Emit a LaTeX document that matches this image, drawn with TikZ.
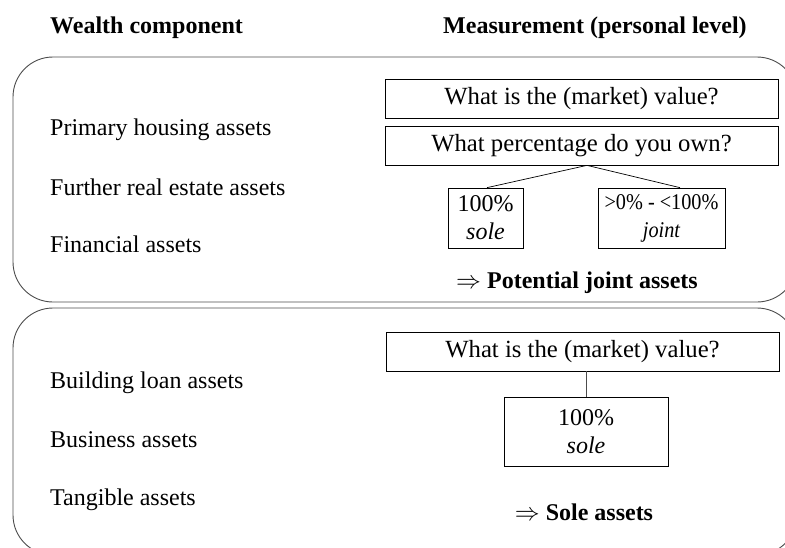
\documentclass[tikz,border=0pt]{standalone}
\usepackage{fontspec}
\setmainfont{Liberation Serif}
\newfontfamily\narrowserif[FakeStretch=0.9]{Liberation Serif}
\usetikzlibrary{positioning}

\begin{document}
\begin{tikzpicture}[x=1pt, y=-1pt,
  panel/.style={draw=black!70, line width=0.9pt, rounded corners=40pt},
  qbox/.style={draw, line width=0.7pt, minimum width=393pt, minimum height=39pt, inner sep=0pt, font=\fontsize{24.7}{28}\selectfont},
  sharebox/.style={draw, line width=0.7pt, inner sep=0pt, align=center, font=\fontsize{24}{28}\selectfont},
  item/.style={anchor=base west, inner sep=0pt, font=\fontsize{24}{28}\selectfont},
  head/.style={anchor=base west, inner sep=0pt, font=\fontsize{24}{28}\selectfont\bfseries},
  result/.style={anchor=base, inner sep=0pt, font=\fontsize{24}{28}\selectfont\bfseries},
  link/.style={line width=0.7pt},
]
  \useasboundingbox (0,0) rectangle (785,547);

  % column heads
  \node[head] (headleft) at (50,33) {Wealth component};
  \node[head] (headright) at (443,33) {Measurement (personal level)};

  % the two groups
  \draw[panel] (13,57) rectangle (797,302);
  \draw[panel] (13,308) rectangle (797,555);

  \foreach \i/\y/\l in {1/135/Primary housing assets, 2/195/Further real estate assets, 3/252/Financial assets,
                        4/388/Building loan assets, 5/447/Business assets, 6/505/Tangible assets} {
    \node[item] (comp\i) at (50,\y) {\l};
  }

  % joint measurement
  \node[qbox] (value) at (581.5,98.5) {What is the (market) value?};
  \node[qbox] (share) at (581.5,145.5) {What percentage do you own?};
  \node[sharebox, minimum width=75pt, minimum height=60pt] (sole) at (485.5,218) {100\%\\\textit{sole}};
  \node[sharebox, minimum width=127pt, minimum height=60pt, font=\fontsize{22.5}{28}\selectfont] (joint) at (661.5,218) {\narrowserif >0\% - <100\%\\\narrowserif\itshape joint};
  \draw[link] ([xshift=5.5pt]share.south) -- ([xshift=1.5pt]sole.north);
  \draw[link] ([xshift=5.5pt]share.south) -- ([xshift=18.5pt]joint.north);
  \node[result] (jointres) at (577,288) {$\Rightarrow$ Potential joint assets};

  % sole measurement
  \node[qbox] (value2) at (582.5,351.5) {What is the (market) value?};
  \node[sharebox, minimum width=164pt, minimum height=69pt] (sole2) at (586,431.5) {100\%\\\textit{sole}};
  \draw[link, black!70] (value2.south -| sole2.north) -- (sole2.north);
  \node[result] (soleres) at (584,520) {$\Rightarrow$ Sole assets};
\end{tikzpicture}
\end{document}
